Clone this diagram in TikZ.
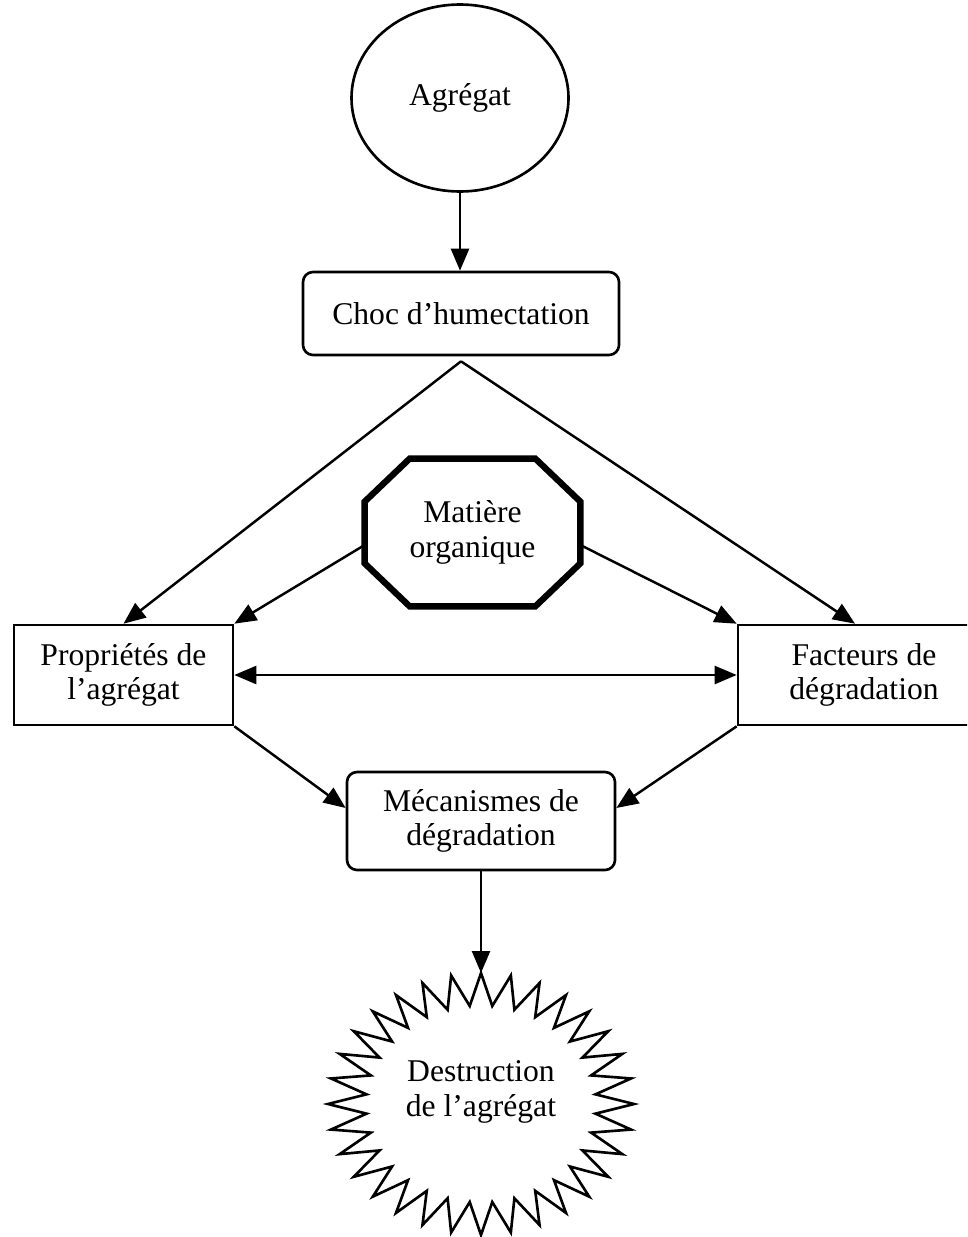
\documentclass[tikz,border=0pt]{standalone}
\usepackage{fontspec}
\setmainfont{Liberation Serif}
\usepackage{tikz}
\usetikzlibrary{
    arrows.meta,
    shapes.geometric,
    positioning,
    calc
}
\tikzstyle{arrow} = [
    -{Triangle[length=0.44cm,width=0.36cm]},
    line width=1.4pt
]
\tikzstyle{twoway} = [
    {Triangle[length=0.44cm,width=0.36cm]}-{Triangle[length=0.44cm,width=0.36cm]},
    line width=1.4pt
]
\tikzstyle{txt} = [
    align=center,
    font=\fontsize{18}{19.5}\selectfont
]
\tikzstyle{box} = [
    txt,
    rectangle,
    draw=black,
    line width=1.5pt
]
\tikzstyle{roundbox} = [
    box,
    rounded corners=0.2cm
]

\begin{document}
\begin{tikzpicture}
        \useasboundingbox (0,0) rectangle (19.34,-24.74);
        \clip (0,0) rectangle (19.34,-24.74);

        % Aggregate and wetting
        \node[txt, ellipse, draw, line width=1.5pt, minimum width=4.34cm, minimum height=3.74cm] (agregat) at (9.2,-1.96) {Agrégat};
        \node[roundbox, minimum width=6.32cm, minimum height=1.66cm] (choc) at (9.22,-6.27) {Choc d’humectation};
        \draw[arrow] (agregat.south) -- (agregat.south |- choc.north);
        \coordinate (apex) at ([yshift=-0.1cm]choc.south);

        % Side boxes
        \node[box, minimum width=4.38cm, minimum height=2cm] (proprietes) at (2.47,-13.5) {Propriétés de\\l’agrégat};
        \node[box, minimum width=5.04cm, minimum height=2cm] (facteurs) at (17.28,-13.5) {Facteurs de\\dégradation};
        \draw[arrow] (apex) -- (proprietes.north);
        \draw[arrow] (apex) -- ([xshift=-0.18cm]facteurs.north);

        % Organic matter
        \node[txt, minimum width=4.3cm, minimum height=2.94cm] (matiere) at (9.45,-10.65) {Matière\\organique};
        \draw[line width=3.6pt, line join=miter]
            ([xshift=0.9cm]matiere.north west) -- ([xshift=-0.9cm]matiere.north east)
            -- ([yshift=-0.86cm]matiere.north east) -- ([yshift=0.86cm]matiere.south east)
            -- ([xshift=-0.9cm]matiere.south east) -- ([xshift=0.9cm]matiere.south west)
            -- ([yshift=0.86cm]matiere.south west) -- ([yshift=-0.86cm]matiere.north west) -- cycle;
        \draw[arrow] ([yshift=-0.25cm]matiere.west) -- (proprietes.north east);
        \draw[arrow] ([yshift=-0.25cm]matiere.east) -- (facteurs.north west);
        \draw[twoway] (proprietes.east) -- (facteurs.west);

        % Mechanisms
        \node[roundbox, minimum width=5.36cm, minimum height=1.96cm] (mecanismes) at (9.62,-16.42) {Mécanismes de\\dégradation};
        \draw[arrow] (proprietes.south east) -- ([yshift=0.26cm]mecanismes.west);
        \draw[arrow] (facteurs.south west) -- ([yshift=0.26cm]mecanismes.east);

        % Destruction
        \coordinate (burst) at (9.62,-22.08);
        \coordinate (bursttop) at ([yshift=2.62cm]burst);
        \draw[shift={(burst)}, line width=1.5pt, line join=miter]
            plot[samples=64, domain=0:63, variable=\k]
            ({1.168*(1.97+0.325*(1+cos(180*\k)))*cos(90+5.625*\k)}, {(1.97+0.325*(1+cos(180*\k)))*sin(90+5.625*\k)}) -- cycle;
        \node[txt] (destruction) at (9.62,-21.84) {Destruction\\de l’agrégat};
        \draw[arrow] (mecanismes.south) -- (bursttop);
    \end{tikzpicture}
\end{document}
